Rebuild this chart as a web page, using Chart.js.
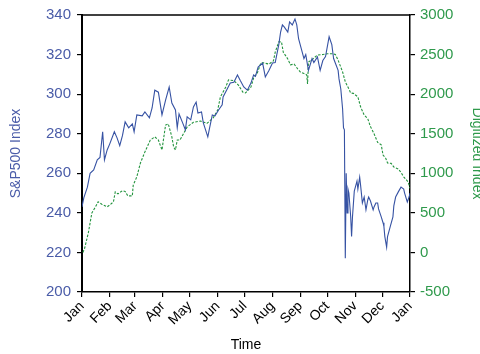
<!DOCTYPE html>
<html>
<head>
<meta charset="utf-8">
<script src="https://cdn.jsdelivr.net/npm/chart.js@4"></script>
<style>
  html, body { margin: 0; padding: 0; background: #fff; }
  #wrap { width: 480px; height: 354px; }
</style>
</head>
<body>
<div id="wrap"><canvas id="chart" width="480" height="354"></canvas></div>
<script>
// Month ticks (day of year) and their labels
const monthDays = [0, 31, 59, 90, 120, 151, 181, 212, 243, 273, 304, 334, 365];
const monthLabels = ["Jan", "Feb", "Mar", "Apr", "May", "Jun", "Jul", "Aug", "Sep", "Oct", "Nov", "Dec", "Jan"];

// S&P500 index
const spDays = [0, 2, 6, 9, 13, 17, 20, 23, 25, 28, 31, 36, 39, 42, 45, 48, 52, 56, 58, 61, 67, 70, 75, 78, 81, 85,
  89, 93, 97, 100, 104, 106, 108, 112, 115, 117, 121, 124, 127, 129, 133, 135, 140, 142, 145, 148, 152, 156, 157, 162,
  165, 169, 173, 176, 180, 184, 188, 191, 193, 196, 201, 204, 208, 212, 215, 219, 221, 223, 225, 229, 231, 234, 237,
  239, 241, 244, 247, 249, 252, 256, 258, 262, 265, 268, 271, 275, 278, 280, 285, 286, 288, 290, 291, 292, 293, 294,
  295, 296, 297, 299, 300, 301, 303, 306, 307, 309, 310, 312, 314, 316, 318, 319, 321, 324, 325, 327, 329, 330, 333,
  335, 336, 337, 339, 340, 343, 346, 347, 349, 352, 355, 358, 359, 362, 364, 365];
const spValues = [243, 247.6, 253, 260, 261.7, 266.8, 268, 281, 266.8, 271.8, 275, 281, 277.9, 274, 279, 286, 283, 285,
  281, 289.5, 289, 291, 288, 293, 302, 301, 289.5, 297, 303.6, 295.5, 292, 283, 290, 285.5, 282, 288.5, 287, 293.5,
  296, 290.5, 291, 285.5, 278.4, 283, 289.5, 289, 292, 294.6, 298.6, 303, 305.6, 306, 309.7, 307, 303.6, 302, 305.6,
  309.7, 309, 313.7, 315.7, 308.7, 312, 315.7, 316, 325, 331.4, 335, 334, 331.4, 336.5, 335, 338, 335, 328, 323, 318,
  320, 312, 318, 316, 318.8, 312, 317, 319, 329, 325, 318, 312, 307.7, 302.6, 292.5, 283, 282, 217, 260, 240, 252,
  250, 238, 228, 238, 251, 256, 252, 258, 254, 245, 248, 241.5, 246.5, 248, 246, 241.5, 243, 245, 245, 242, 238, 235,
  233, 228, 222.7, 228, 233, 238, 243.5, 248, 250.6, 253, 252, 250, 245.5, 248, 250];

// Digitized index
const digDays = [1, 3, 7, 11, 15, 18, 22, 28, 31, 35, 37, 40, 45, 48, 51, 56, 57, 61, 65, 70, 76, 81, 85, 89, 93, 96,
  100, 102, 104, 106, 109, 117, 124, 132, 139, 146, 151, 154, 160, 163, 169, 174, 179, 182, 188, 191, 195, 199, 202,
  208, 213, 215, 219, 222, 224, 229, 232, 236, 240, 243, 247, 250, 251, 252, 257, 262, 268, 273, 279, 282, 285, 290,
  293, 297, 299, 302, 307, 310, 314, 318, 321, 325, 329, 333, 335, 338, 340, 344, 347, 352, 355, 358, 363, 365];
const digValues = [0, 55, 245, 500, 575, 640, 610, 575, 600, 640, 765, 740, 780, 770, 715, 715, 850, 955, 1130, 1270,
  1420, 1460, 1420, 1295, 1610, 1625, 1460, 1330, 1295, 1420, 1420, 1585, 1645, 1660, 1630, 1700, 1800, 1965, 2090,
  2180, 2170, 2115, 2025, 2015, 2090, 2205, 2265, 2395, 2395, 2380, 2420, 2530, 2660, 2660, 2530, 2445, 2370, 2380,
  2320, 2280, 2260, 2245, 2130, 2405, 2445, 2495, 2500, 2510, 2510, 2500, 2430, 2280, 2155, 2065, 2015, 2010, 1965,
  1840, 1735, 1690, 1590, 1500, 1390, 1360, 1230, 1190, 1130, 1125, 1080, 1055, 1010, 955, 890, 810];

const blue = "#3652a3";
const blueText = "#4a5ca8";
const green = "#24943f";
const greenText = "#2f9a4c";
const font = "'Liberation Sans', Arial, sans-serif";

const toPoints = (xs, ys) => xs.map((x, i) => ({ x: x, y: ys[i] }));

// top frame line
const frameTop = {
  id: "frameTop",
  afterDraw(chart) {
    const { ctx, chartArea } = chart;
    ctx.save();
    ctx.strokeStyle = "#000";
    ctx.lineWidth = 1.5;
    ctx.beginPath();
    ctx.moveTo(chartArea.left, chartArea.top);
    ctx.lineTo(chartArea.right + 0.5, chartArea.top);
    ctx.stroke();
    ctx.restore();
  }
};

new Chart(document.getElementById("chart").getContext("2d"), {
  type: "line",
  data: {
    datasets: [
      {
        label: "S&P500 Index",
        data: toPoints(spDays, spValues),
        yAxisID: "y",
        borderColor: blue,
        borderWidth: 1.1,
        pointRadius: 0,
        tension: 0
      },
      {
        label: "Digitized Index",
        data: toPoints(digDays, digValues),
        yAxisID: "y2",
        borderColor: green,
        borderWidth: 1.1,
        borderDash: [2.5, 1.5],
        pointRadius: 0,
        tension: 0
      }
    ]
  },
  options: {
    responsive: false,
    animation: false,
    layout: { padding: { top: 15, left: 0, right: 0, bottom: 0 } },
    plugins: { legend: { display: false }, tooltip: { enabled: false } },
    scales: {
      x: {
        type: "linear",
        min: 0,
        max: 365,
        afterBuildTicks: scale => { scale.ticks = monthDays.map(v => ({ value: v })); },
        afterFit: scale => { scale.height = 62; },
        ticks: {
          autoSkip: false,
          maxRotation: 45,
          minRotation: 45,
          padding: 1,
          color: "#000",
          font: { family: font, size: 14 },
          callback: (v, i) => monthLabels[i]
        },
        grid: { display: true, drawOnChartArea: false, tickLength: 5, color: "#000", lineWidth: 1.2 },
        border: { display: true, color: "#000", width: 1.5 },
        title: { display: true, text: "Time", color: "#000", padding: { top: 0, bottom: 0 },
          font: { family: font, size: 14 } }
      },
      y: {
        position: "left",
        min: 200,
        max: 340,
        afterFit: scale => { scale.width = 82; },
        ticks: { stepSize: 20, padding: 6, color: blueText, font: { family: font, size: 15 },
          callback: v => String(v) },
        grid: { display: true, drawOnChartArea: false, tickLength: 5, color: "#000", lineWidth: 1.2 },
        border: { display: true, color: "#000", width: 2 },
        title: { display: true, text: "S&P500 Index", color: blueText, padding: { top: 8, bottom: 0 },
          font: { family: font, size: 14 } }
      },
      y2: {
        position: "right",
        min: -500,
        max: 3000,
        afterFit: scale => { scale.width = 70; },
        ticks: { stepSize: 500, padding: 5, color: greenText, font: { family: font, size: 15 },
          callback: v => String(v) },
        grid: { display: true, drawOnChartArea: false, tickLength: 5, color: "#000", lineWidth: 1.2 },
        border: { display: true, color: "#000", width: 1.5 },
        title: { display: true, text: "Digitized Index", color: greenText, padding: { top: -5, bottom: 0 },
          font: { family: font, size: 14 } }
      }
    }
  },
  plugins: [frameTop]
});
</script>
</body>
</html>
